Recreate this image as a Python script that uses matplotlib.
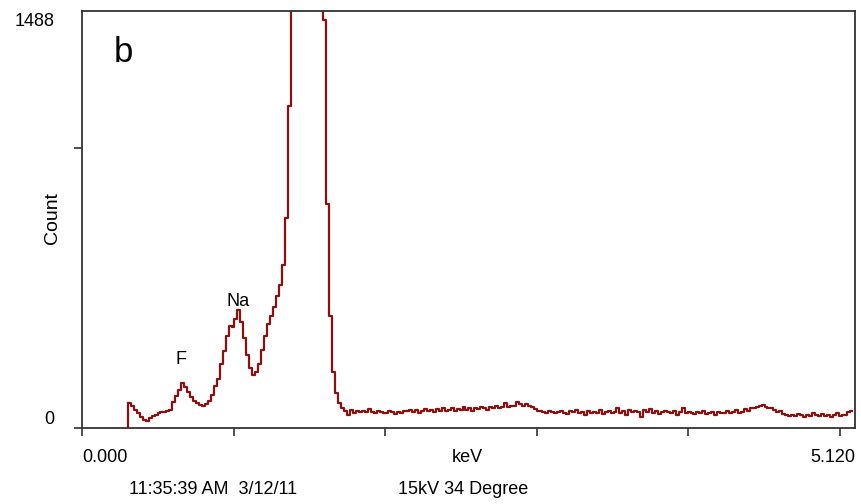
import numpy as np
import matplotlib
matplotlib.use("Agg")
import matplotlib.pyplot as plt

plt.rcParams['font.family'] = ['Liberation Sans', 'DejaVu Sans']

# EDS spectrum, 20 eV channels starting at 0.32 keV
E_START = 0.32
CHANNEL = 0.02
counts = [
    88, 78, 66, 52, 40, 30, 26, 36, 44, 48,
    54, 58, 58, 62, 66, 92, 115, 135, 162, 148,
    130, 112, 98, 88, 82, 80, 86, 96, 118, 150,
    175, 230, 275, 330, 365, 360, 390, 421, 380, 320,
    260, 215, 190, 200, 230, 280, 330, 370, 400, 430,
    470, 510, 580, 750, 1150,
    2200, 3500, 5000, 6200, 6800, 6500, 5600, 4300, 3000, 2200, 1700,
    1456, 800, 400, 200, 125, 88,
    72, 60, 48, 66, 55, 62, 57, 60, 56, 68,
    58, 55, 60, 57, 52, 54, 61, 56, 50, 58,
    54, 62, 60, 64, 58, 66, 55, 62, 68, 60,
    64, 58, 67, 62, 70, 60, 66, 72, 62, 68,
    64, 74, 66, 70, 62, 72, 68, 76, 70, 66,
    74, 70, 80, 72, 76, 88, 74, 78, 80, 92,
    84, 80, 86, 78, 74, 68, 62, 60, 58, 54,
    60, 56, 52, 58, 62, 54, 50, 60, 56, 66,
    52, 58, 48, 62, 54, 56, 52, 64, 50, 56,
    60, 52, 58, 70, 54, 62, 48, 66, 56, 60,
    58, 40, 64, 56, 68, 54, 60, 50, 56, 62,
    56, 52, 60, 48, 56, 70, 52, 58, 54, 50,
    56, 52, 60, 50, 54, 56, 48, 58, 52, 55,
    60, 52, 56, 64, 54, 58, 68, 62, 72, 70,
    74, 78, 82, 76, 70, 72, 64, 56, 60, 50,
    46, 44, 48, 42, 50, 46, 40, 48, 44, 52,
    46, 42, 50, 44, 48, 40, 46, 52, 44, 48,
    46, 56, 60,
]
energy = E_START + CHANNEL * np.arange(len(counts))

x_ticks = [0.0, 1.024, 2.048, 3.072, 4.096, 5.120]
y_ticks = [0, 1000]
y_max = 1488
x_max = 5.221

peak_labels = ["F", "Na"]
peak_pos = [(0.669, 243), (1.054, 452)]

fig = plt.figure(figsize=(8.61, 5.04), dpi=100)
ax = fig.add_axes([82/861, (504-428)/504, (855-82)/861, (428-11)/504])

line_color = '#8b1010'
lw = 1.6
# vertical start of spectrum from baseline
ax.plot([energy[0] - CHANNEL/2, energy[0] - CHANNEL/2], [0, counts[0]],
        color=line_color, lw=lw)
ax.step(energy, counts, where='mid', color=line_color, lw=lw)

ax.set_xlim(0, x_max)
ax.set_ylim(0, y_max)
ax.set_xticks(x_ticks)
ax.set_yticks(y_ticks)
ax.set_xticklabels([])
ax.set_yticklabels([])
ax.tick_params(direction='out', length=6, width=1.2, color='#333333')
for s in ax.spines.values():
    s.set_color('#333333')
    s.set_linewidth(1.3)

fs = 13
ax.text(-27/773, 1.0 - 11/417, "1488", transform=ax.transAxes, ha='right', va='center', fontsize=fs)
ax.text(-28/773, 8/417, "0", transform=ax.transAxes, ha='right', va='center', fontsize=fs)
ax.text(0.0, -30/417, "0.000", transform=ax.transAxes, ha='left', va='center', fontsize=fs)
ax.text(1.0, -30/417, "5.120", transform=ax.transAxes, ha='right', va='center', fontsize=fs)
ax.text((467-82)/773, -30/417, "keV", transform=ax.transAxes, ha='center', va='center', fontsize=fs)
fig.text(129/861, 1 - 489/504, "11:35:39 AM  3/12/11", ha='left', va='center', fontsize=fs)
fig.text(398/861, 1 - 489/504, "15kV 34 Degree", ha='left', va='center', fontsize=fs)
fig.text(52/861, 1 - 218/504, "Count", rotation=90, ha='center', va='center', fontsize=14)
fig.text(123/861, 1 - 52/504, "b", ha='center', va='center', fontsize=25)

for lab, (px, py) in zip(peak_labels, peak_pos):
    ax.text(px, py, lab, ha='center', va='center', fontsize=fs)

fig.savefig("out.png", dpi=100)
